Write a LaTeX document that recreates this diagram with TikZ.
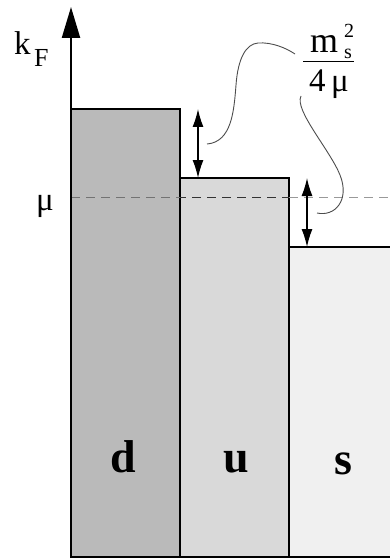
\documentclass[tikz,border=0pt]{standalone}
\usepackage{fontspec}
\setmainfont{Liberation Serif}
\usetikzlibrary{arrows.meta}
\begin{document}
\begin{tikzpicture}[x=1pt,y=-1pt,
  box/.style={draw=black,line width=2pt},
  dim/.style={line width=1.3pt,{Latex[length=18pt,width=11pt]}-{Latex[length=18pt,width=11pt]}},
  lead/.style={draw=black!70,line width=0.9pt},
  lbl/.style={inner sep=0pt,font=\fontsize{33}{33}\selectfont},
  quark/.style={inner sep=0pt,font=\fontsize{46}{46}\selectfont\bfseries}]
\useasboundingbox (0,0) rectangle (389,559);
% boxes
\path[box,fill=black!27] (71,557) rectangle (180,109);
\path[box,fill=black!15] (180,557) rectangle (289,178);
\path[box,fill=black!6] (289,557) rectangle (395,247);
% named corners
\coordinate (dtop) at (198,109);
\coordinate (utop) at (198,178);
\coordinate (utop2) at (307,178);
\coordinate (stop) at (307,247);
% dashed mu line
\coordinate (m0) at (71,197);
\coordinate (m1) at (180,197);
\coordinate (m2) at (289,197);
\coordinate (m3) at (389,197);
\draw[black!55,line width=1pt,dash pattern=on 9pt off 6pt] (m0) -- (m1);
\draw[black!80,line width=1pt,dash pattern=on 9pt off 6pt,dash phase=3pt] (m1) -- (m2);
\draw[black!40,line width=1pt,dash pattern=on 9pt off 6pt] (m2) -- (m3);
% axis
\coordinate (ax0) at (71,558);
\coordinate (ax1) at (71,7);
\draw[line width=2.3pt,-{Triangle[length=31pt,width=18pt]}] (ax0) -- (ax1);
% double arrows
\draw[dim] (dtop) -- (utop);
\draw[dim] (utop2) -- (stop);
% labels
\node[lbl,anchor=base west] (k) at (14,55) {k};
\node[inner sep=0pt,anchor=base west,font=\fontsize{26}{26}\selectfont] (F) at (34,67) {F};
\node[lbl,anchor=base] (mu) at (45,210) {μ};
% fraction
\node[inner sep=0pt,anchor=base,font=\fontsize{36}{36}\selectfont] (num) at (324,53) {m};
\node[inner sep=0pt,anchor=base west,font=\fontsize{20}{20}\selectfont] (sup) at (344,38) {2};
\node[inner sep=0pt,anchor=base west,font=\fontsize{20}{20}\selectfont] (sub) at (344,59) {s};
\coordinate (barL) at (303,62);
\coordinate (barR) at (354,62);
\draw[line width=1pt] (barL) -- (barR);
\node[inner sep=0pt,anchor=base,font=\fontsize{33}{33}\selectfont] (den) at (329,92) {4\,μ};
% leader curves
\coordinate (c1a) at (207,144);
\coordinate (c1b) at (295,54);
\draw[lead] (c1a) .. controls (232,142) and (234,110) .. (236,85)
  .. controls (238,58) and (246,44) .. (258,43)
  .. controls (272,42) and (286,48) .. (c1b);
\coordinate (c2a) at (301,96);
\coordinate (c2b) at (317,213);
\draw[lead] (c2a) .. controls (294,110) and (330,150) .. (340,175)
  .. controls (350,200) and (335,217) .. (c2b);
% quark labels
\node[quark,anchor=base] (d) at (123,472) {d};
\node[quark,anchor=base] (u) at (236,472) {u};
\node[quark,anchor=base] (s) at (343,474) {s};
\end{tikzpicture}
\end{document}
